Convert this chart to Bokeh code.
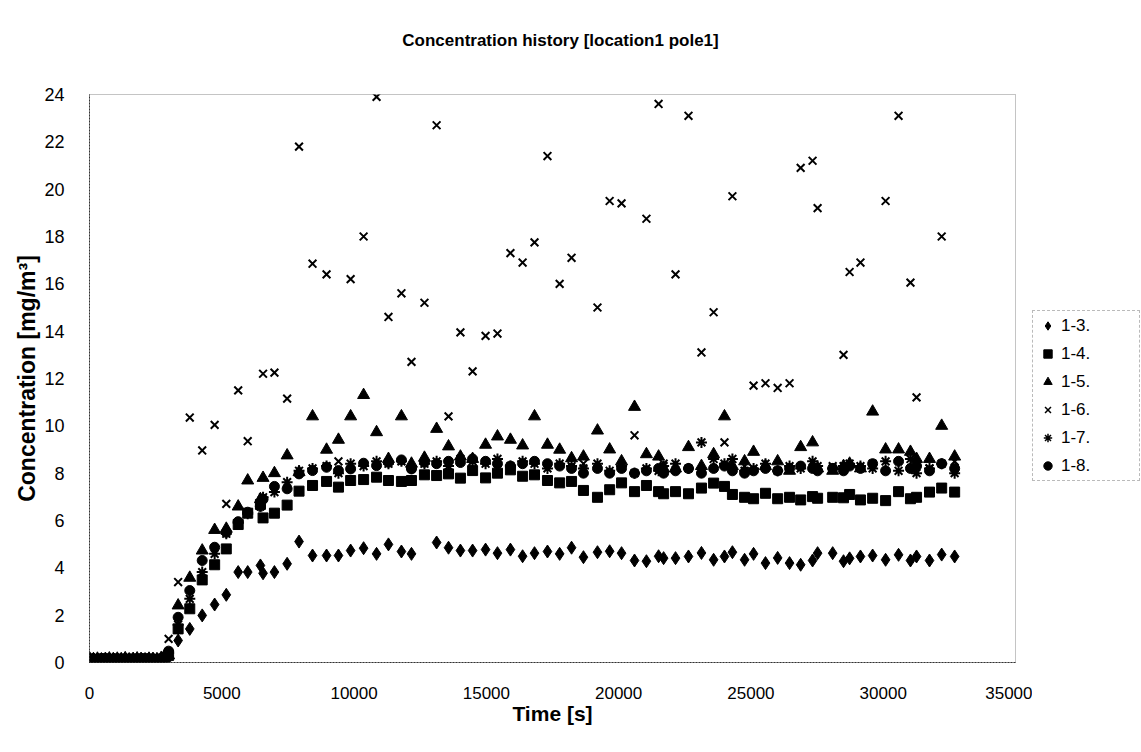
import math
from bokeh.plotting import figure
from bokeh.layouts import column, row
from bokeh.models import Range1d, Legend, LegendItem, FixedTicker, ColumnDataSource
from bokeh.core.properties import value
from bokeh.embed import file_html
from bokeh.resources import INLINE

NaN = float("nan")

# ---- time axis [s] ----
early_t = [0, 150, 300, 450, 600, 750, 900, 1050, 1200, 1350, 1500, 1650, 1800,
           1950, 2100, 2250, 2400, 2550, 2700, 2850]
late_t = [2990, 3350, 3790, 4260, 4730, 5170, 5620, 5980, 6460, 6560, 6990, 7470,
          7920, 8430, 8960, 9410, 9870, 10360, 10850, 11300, 11790, 12170, 12660,
          13120, 13570, 14020, 14480, 14970, 15420, 15910, 16370, 16820, 17310,
          17770, 18220, 18670, 19200, 19660, 20110, 20600, 21050, 21510, 21700,
          22150, 22640, 23130, 23590, 24000, 24300, 24760, 25100, 25550, 26010,
          26460, 26880, 27330, 27520, 28090, 28500, 28730, 29140, 29600, 30090,
          30580, 31030, 31260, 31750, 32210, 32700]

# ---- concentrations [mg/m3] ----
e13 = [0.12, 0.15, 0.10, 0.14, 0.12, 0.10, 0.15, 0.12, 0.13, 0.10, 0.14, 0.12,
       0.11, 0.15, 0.12, 0.10, 0.13, 0.15, 0.12, 0.14]
e14 = [0.15, 0.12, 0.14, 0.10, 0.16, 0.13, 0.11, 0.15, 0.12, 0.14, 0.10, 0.15,
       0.13, 0.12, 0.16, 0.14, 0.12, 0.10, 0.15, 0.13]
e15 = [0.18, 0.14, 0.16, 0.12, 0.15, 0.17, 0.13, 0.16, 0.14, 0.18, 0.12, 0.15,
       0.17, 0.14, 0.13, 0.16, 0.15, 0.12, 0.17, 0.20]
e16 = [0.10, 0.13, 0.12, 0.15, 0.10, 0.14, 0.12, 0.10, 0.15, 0.12, 0.13, 0.10,
       0.14, 0.12, 0.10, 0.15, 0.13, 0.12, 0.10, 0.30]
e17 = [0.14, 0.11, 0.15, 0.13, 0.12, 0.16, 0.14, 0.11, 0.13, 0.15, 0.12, 0.14,
       0.16, 0.11, 0.14, 0.12, 0.15, 0.13, 0.12, 0.15]
e18 = [0.16, 0.14, 0.12, 0.17, 0.14, 0.12, 0.16, 0.15, 0.12, 0.16, 0.14, 0.12,
       0.15, 0.17, 0.12, 0.14, 0.16, 0.12, 0.15, 0.22]

s13 = [0.25, 0.93, 1.42, 1.99, 2.45, 2.86, 3.82, 3.82, 4.10, 3.77, 3.82, 4.17,
       5.11, 4.52, 4.52, 4.52, 4.73, 4.83, 4.59, 4.99, 4.69, 4.59, NaN,
       5.07, 4.85, 4.73, 4.73, 4.77, 4.62, 4.77, 4.49, 4.62, 4.69,
       4.59, 4.85, 4.45, 4.66, 4.70, 4.62, 4.31, 4.28, 4.49, 4.41,
       4.41, 4.48, 4.63, 4.34, 4.48, 4.66, 4.34, 4.59, 4.20, 4.42,
       4.20, 4.13, 4.31, 4.62, 4.62, 4.28, 4.40, 4.48, 4.52, 4.34,
       4.55, 4.31, 4.48, 4.31, 4.56, 4.48]
s14 = [0.30, 1.42, 2.27, 3.49, 4.13, 4.80, 5.83, 6.31, 6.68, 6.11, 6.31, 6.65,
       7.24, 7.48, 7.65, 7.41, 7.69, 7.73, 7.83, 7.69, 7.65, 7.69, 7.93,
       7.90, 7.97, 7.79, 8.11, 7.80, 8.00, 8.14, 7.87, 7.93, 7.69,
       7.59, 7.65, 7.27, 6.98, 7.30, 7.59, 7.22, 7.48, 7.22, 7.13,
       7.22, 7.13, 7.37, 7.58, 7.44, 7.10, 6.98, 6.92, 7.15, 6.92,
       6.98, 6.87, 7.01, 6.94, 6.98, 6.96, 7.10, 6.87, 6.94, 6.84,
       7.22, 6.92, 6.98, 7.20, 7.37, 7.20]
s15 = [0.30, 2.41, 3.58, 4.73, 5.60, 5.65, 6.59, 7.69, 6.90, 7.80, 8.00, 8.75,
       8.04, 10.40, 8.99, 9.41, 10.40, 11.30, 9.73, 8.60, 10.40, 8.40, 8.65,
       9.87, 9.13, 8.70, 8.60, 9.20, 9.55, 9.41, 9.17, 10.40, 9.20,
       8.99, 8.63, 8.70, 9.80, 9.00, 8.50, 10.80, 8.80, 8.70, 8.20,
       8.20, 9.10, 8.30, 8.80, 10.40, 8.30, 8.50, 8.90, 8.30, 8.50,
       8.10, 9.10, 9.30, 8.20, 8.10, 8.30, 8.40, 8.20, 10.60, 9.00,
       9.00, 8.90, 8.60, 8.60, 10.00, 8.70]
s16 = [1.00, 3.40, 10.35, 8.96, 10.04, 6.70, 11.50, 9.35, NaN, 12.20, 12.25, 11.15,
       21.80, 16.85, 16.40, 8.50, 16.20, 18.00, 23.90, 14.60, 15.60, 12.70, 15.20,
       22.70, 10.40, 13.95, 12.30, 13.80, 13.90, 17.30, 16.90, 17.75, 21.40,
       16.00, 17.10, 8.40, 15.00, 19.50, 19.40, 9.60, 18.75, 23.60, 8.40,
       16.40, 23.10, 13.10, 14.80, 9.30, 19.70, 8.30, 11.70, 11.80, 11.60,
       11.80, 20.90, 21.20, 19.20, 8.30, 13.00, 16.50, 16.90, 8.40, 19.50,
       23.10, 16.05, 11.20, 8.20, 18.00, 8.50]
s17 = [0.40, 1.60, 2.69, 3.82, 4.59, 5.44, 5.90, 6.28, 6.60, 6.98, 7.20, 7.62,
       8.10, 8.20, 8.30, 8.00, 8.40, 8.30, 8.50, 8.40, 8.50, 8.20, 8.40,
       8.50, 8.30, 8.60, 8.50, 8.40, 8.60, 8.30, 8.50, 8.40, 8.20,
       8.40, 8.30, 8.20, 8.40, 8.10, 8.30, 8.00, 8.20, 8.10, 8.30,
       8.40, 8.20, 9.30, 8.60, 8.40, 8.60, 8.10, 8.20, 8.40, 8.10,
       8.30, 8.20, 8.50, 8.30, 8.20, 8.30, 8.40, 8.30, 8.20, 8.50,
       8.10, 8.60, 8.00, 8.20, 8.40, 8.00]
s18 = [0.48, 1.91, 3.04, 4.31, 4.87, 5.50, 5.95, 6.35, 6.60, 6.90, 7.44, 7.34,
       7.97, 8.11, 8.25, 8.11, 8.18, 8.42, 8.32, 8.46, 8.56, 8.18, 8.46,
       8.40, 8.50, 8.45, 8.60, 8.50, 8.40, 8.30, 8.40, 8.50, 8.40,
       8.30, 8.20, 8.00, 8.20, 8.00, 8.20, 8.00, 8.10, 8.20, 8.00,
       8.10, 8.20, 8.00, 8.20, 8.30, 8.10, 8.00, 8.10, 8.20, 8.10,
       8.20, 8.30, 8.20, 8.10, 8.20, 8.10, 8.30, 8.20, 8.40, 8.10,
       8.50, 8.20, 8.30, 8.10, 8.40, 8.20]

series_names = ["1-3.", "1-4.", "1-5.", "1-6.", "1-7.", "1-8."]
markers = ["diamond", "square", "triangle", "x", "asterisk", "circle"]
sizes = [13, 10, 12, 11, 11, 10]
early_vals = [e13, e14, e15, e16, e17, e18]
late_vals = [s13, s14, s15, s16, s17, s18]

FONT = "Liberation Sans"
TITLE = "Concentration history [location1 pole1]"


def bare(fig):
    fig.axis.visible = False
    fig.xgrid.visible = False
    fig.ygrid.visible = False
    fig.outline_line_color = None
    fig.background_fill_color = "white"
    fig.border_fill_color = "white"


# ---- title strip ----
tfig = figure(width=1141, height=60, output_backend="svg", toolbar_location=None,
              x_range=Range1d(0, 1141), y_range=Range1d(60, 0),
              min_border=0)
bare(tfig)
tfig.text(x=[560], y=[40], text=[TITLE], text_font=value(FONT),
          text_font_style="bold", text_font_size="17px", text_color="black",
          text_align="center", text_baseline="middle")

# ---- main plot ----
p = figure(frame_width=926, frame_height=568, output_backend="svg",
           toolbar_location=None,
           x_range=Range1d(0, 35000), y_range=Range1d(0, 24),
           min_border_left=89, min_border_right=17, min_border_top=34,
           min_border_bottom=90)
p.outline_line_color = "#888888"
p.outline_line_dash = "1 1"
p.outline_line_width = 1
p.xgrid.visible = False
p.ygrid.visible = False
p.background_fill_color = "white"
p.border_fill_color = "white"

p.xaxis.ticker = FixedTicker(ticks=[0, 5000, 10000, 15000, 20000, 25000, 30000, 35000])
p.yaxis.ticker = FixedTicker(ticks=list(range(0, 25, 2)))
for ax in (p.xaxis[0], p.yaxis[0]):
    ax.axis_line_color = "#333333"
    ax.axis_line_width = 1
    ax.axis_line_dash = "2 1"
    ax.major_tick_line_color = None
    ax.minor_tick_line_color = None
    ax.major_label_text_font = FONT
    ax.major_label_text_color = "black"
    ax.axis_label_text_font = FONT
    ax.axis_label_text_font_style = "bold"
    ax.axis_label_text_color = "black"
p.xaxis.major_label_text_font_size = "17px"
p.yaxis.major_label_text_font_size = "18px"
p.xaxis.axis_label_text_font_size = "21px"
p.yaxis.axis_label_text_font_size = "23px"
p.xaxis.major_label_standoff = 18
p.yaxis.major_label_standoff = 19
p.xaxis.axis_label = "Time [s]"
p.yaxis.axis_label = "Concentration [mg/m³]"
p.xaxis.axis_label_standoff = 0
p.yaxis.axis_label_standoff = 1

for name, mk, sz, ev, lv in zip(series_names, markers, sizes, early_vals, late_vals):
    src = ColumnDataSource(dict(x=early_t + late_t, y=ev + lv))
    p.scatter("x", "y", source=src, marker=mk, size=sz,
              fill_color="black", line_color="black",
              line_width=2 if mk in ("x", "asterisk") else 1)

# ---- legend strip (right of the plot) ----
lfig = figure(width=109, height=692, output_backend="svg", toolbar_location=None,
              x_range=Range1d(0, 1), y_range=Range1d(0, 1), min_border=0)
bare(lfig)
items = []
for name, mk, sz in zip(series_names, markers, sizes):
    r = lfig.scatter(x=[-10], y=[-10], marker=mk, size=sz, fill_color="black",
                     line_color="black",
                     line_width=1.5 if mk in ("x", "asterisk") else 1)
    items.append(LegendItem(label=name, renderers=[r]))
legend = Legend(items=items, location=(0, 181), orientation="vertical",
                label_text_font=FONT, label_text_font_size="17px",
                label_text_color="black", glyph_width=21, glyph_height=21,
                label_standoff=3, label_width=74, spacing=7, padding=4, margin=0,
                border_line_color="#777777", border_line_dash="1 2",
                background_fill_color="white", background_fill_alpha=1)
lfig.add_layout(legend, "center")

layout = column(tfig, row(p, lfig, spacing=0), spacing=0)
open("out.html", "w").write(file_html(layout, INLINE))
